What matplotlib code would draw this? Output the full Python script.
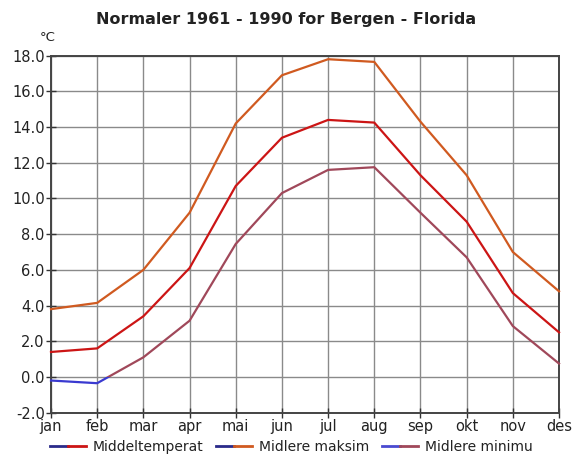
import numpy as np
import matplotlib
matplotlib.use("Agg")
import matplotlib.pyplot as plt
from matplotlib.lines import Line2D
from matplotlib.patches import Rectangle
from matplotlib.legend_handler import HandlerTuple

months = ["jan", "feb", "mar", "apr", "mai", "jun", "jul", "aug", "sep", "okt", "nov", "des"]
middel = [1.4, 1.6, 3.4, 6.1, 10.7, 13.4, 14.4, 14.25, 11.3, 8.7, 4.7, 2.5]
maksim = [3.8, 4.15, 6.0, 9.2, 14.2, 16.9, 17.8, 17.65, 14.3, 11.3, 7.0, 4.8]
minimu = [-0.2, -0.35, 1.1, 3.15, 7.45, 10.3, 11.6, 11.75, 9.2, 6.7, 2.85, 0.75]

labels = ["Middeltemperat", "Midlere maksim", "Midlere minimu"]
series = [middel, maksim, minimu]
colors = ["#cc1515", "#d05a20", "#a0485a"]
cold = ["#2a2a8a", "#2a2a8a", "#4a4ad0"]
BLUE = "#3a3ad0"

plt.rcParams["font.family"] = ["DejaVu Sans"]

fig = plt.figure(figsize=(5.73, 4.58), dpi=100)
ax = fig.add_axes([0.089, 0.099, 0.8866, 0.7795])

x = np.arange(len(months))
ax.set_xlim(0, len(months) - 1)
ax.set_ylim(-2, 18)

# values above zero in series colour, below zero in blue (split with clip rectangles)
warm_clip = Rectangle((-1, 0), 20, 30, transform=ax.transData)
cold_clip = Rectangle((-1, -10), 20, 10, transform=ax.transData)
for ys, col in zip(series, colors):
    (hi,) = ax.plot(x, ys, color=col, lw=1.6, solid_joinstyle="round", zorder=3)
    hi.set_clip_path(warm_clip)
    (lo,) = ax.plot(x, ys, color=BLUE, lw=1.6, solid_joinstyle="round", zorder=3)
    lo.set_clip_path(cold_clip)

ax.set_xticks(x)
ax.set_xticklabels(months, fontsize=10.5, color="#222222")
ax.set_yticks(np.arange(-2, 18.1, 2))
ax.set_yticklabels([f"{v:.1f}" for v in np.arange(-2, 18.1, 2)], fontsize=10.5,
                   color="#222222")
ax.tick_params(direction="inout", length=7, width=1, color="#333333", pad=1)
ax.grid(True, color="#8a8a8a", lw=1)
for s in ax.spines.values():
    s.set_color("#444444")
    s.set_linewidth(1.4)

fig.text(0.5, 0.957, "Normaler 1961 - 1990 for Bergen - Florida", ha="center",
         va="center", fontsize=11.5, fontweight="bold", color="#222222")
fig.text(0.084, 0.918, "°C", ha="center", va="center", fontsize=9.5, color="#222222")

handles = []
for col, c0 in zip(colors, cold):
    handles.append((Line2D([], [], color=c0, lw=2), Line2D([], [], color=col, lw=2)))
fig.legend(handles, labels, handler_map={tuple: HandlerTuple(ndivide=None, pad=0)},
           loc="center", bbox_to_anchor=(0.508, 0.024), ncol=3, frameon=False,
           fontsize=10, handlelength=2.6, handletextpad=0.5, columnspacing=0.9,
           borderaxespad=0, borderpad=0, labelcolor="#222222")

fig.savefig("out.png", dpi=100, facecolor="white")
